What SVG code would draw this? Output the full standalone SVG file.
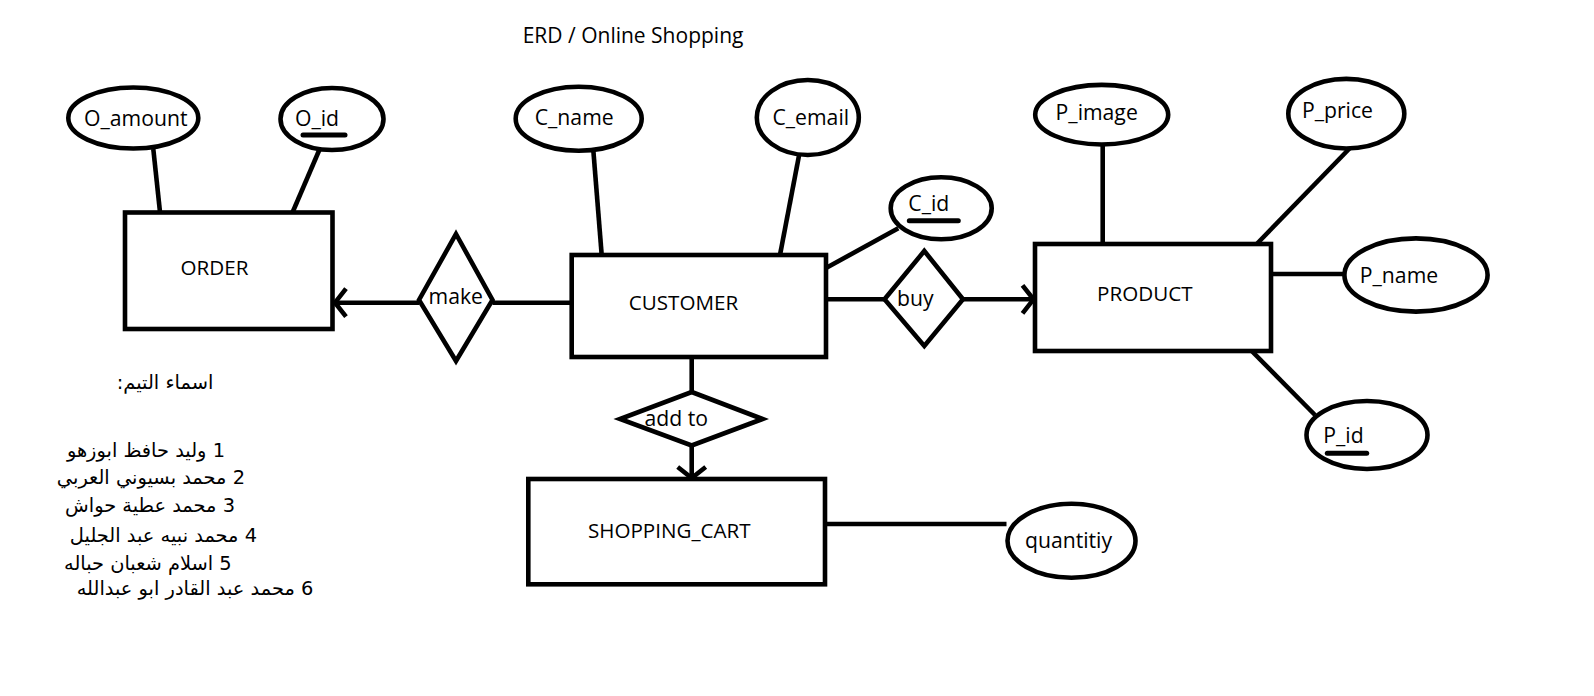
<svg xmlns="http://www.w3.org/2000/svg" width="1594" height="696" viewBox="0 0 1594 696">
<defs>
<style>
.shape{fill:#fff;stroke:#000;stroke-width:4.6}
.ln{fill:none;stroke:#000;stroke-width:4.6}
.ul{fill:none;stroke:#000;stroke-width:5;stroke-linecap:round}
text{font-family:"Open Sans","Liberation Sans",Arial,sans-serif;fill:#000}
.ent{font-size:20.6px;text-anchor:middle}
.att{font-size:21.2px;text-anchor:middle}
.key{font-size:21.2px}
.ttl{font-size:21px}
.ar{font-family:"DejaVu Sans","Noto Sans",sans-serif;font-size:19.4px}
</style>
<marker id="arr" markerWidth="18" markerHeight="32" viewBox="0 0 18 32" refX="14" refY="16" orient="auto" markerUnits="userSpaceOnUse">
<path d="M3,2 L14,16 L3,30" fill="none" stroke="#000" stroke-width="4.6"/>
</marker>
</defs>
<rect width="1594" height="696" fill="#fff"/>
<text class="ttl" x="522.7" y="43.3">ERD / Online Shopping</text>

<g id="connectors">
<line class="ln" x1="153.3" y1="149" x2="160" y2="212"/>
<line class="ln" x1="319.3" y1="150" x2="292.7" y2="212"/>
<line class="ln" x1="593.3" y1="150" x2="601.7" y2="255"/>
<line class="ln" x1="799.3" y1="154" x2="780" y2="255"/>
<line class="ln" x1="898.3" y1="228.3" x2="826" y2="268"/>
<line class="ln" x1="419" y1="302.7" x2="335" y2="302.7" marker-end="url(#arr)"/>
<line class="ln" x1="492.5" y1="302.7" x2="572" y2="302.7"/>
<line class="ln" x1="826" y1="299.3" x2="884.5" y2="299.3"/>
<line class="ln" x1="963" y1="299.3" x2="1033.5" y2="299.3" marker-end="url(#arr)"/>
<line class="ln" x1="691.7" y1="357" x2="691.7" y2="392"/>
<line class="ln" x1="691.7" y1="445.5" x2="691.7" y2="478" marker-end="url(#arr)"/>
<line class="ln" x1="825" y1="524" x2="1006.5" y2="524"/>
<line class="ln" x1="1102.7" y1="144" x2="1102.7" y2="244"/>
<line class="ln" x1="1350" y1="148" x2="1256.7" y2="244"/>
<line class="ln" x1="1271" y1="274" x2="1345" y2="274"/>
<line class="ln" x1="1251.7" y1="351" x2="1315" y2="415"/>
</g>

<g id="order"><rect class="shape" x="125" y="212.5" width="207.5" height="116.5"/><text class="ent" x="214.5" y="275">ORDER</text></g>
<g id="customer"><rect class="shape" x="571.7" y="255" width="254.3" height="102"/><text class="ent" x="683.5" y="310">CUSTOMER</text></g>
<g id="product"><rect class="shape" x="1035" y="244" width="236" height="107"/><text class="ent" x="1144.8" y="300.7">PRODUCT</text></g>
<g id="shopping_cart"><rect class="shape" x="528.3" y="479" width="296.7" height="105.3"/><text class="ent" x="669.2" y="538.3">SHOPPING_CART</text></g>

<g id="make"><polygon class="shape" points="456,234 492.5,300 456,361 419,300"/><text class="att" x="455.8" y="304.3">make</text></g>
<g id="buy"><polygon class="shape" points="924.3,251 963,299.3 924.3,346 884.5,299.3"/><text class="att" x="915.3" y="305.7">buy</text></g>
<g id="add_to"><polygon class="shape" points="691.7,392 762.5,419 691.7,445.5 620,419"/><text class="att" x="676.2" y="426">add to</text></g>

<g id="o_amount"><ellipse class="shape" cx="133.3" cy="118" rx="65" ry="30.5"/><text class="att" x="135.8" y="125.7">O_amount</text></g>
<g id="o_id"><ellipse class="shape" cx="332" cy="119" rx="51.5" ry="31"/><text class="key" x="295" y="125.7">O_id</text><line class="ul" x1="303" y1="135" x2="345" y2="135"/></g>
<g id="c_name"><ellipse class="shape" cx="578.7" cy="118.7" rx="63" ry="32"/><text class="att" x="574.2" y="125">C_name</text></g>
<g id="c_email"><ellipse class="shape" cx="807.8" cy="117.5" rx="51" ry="37.5"/><text class="att" x="810.8" y="125">C_email</text></g>
<g id="c_id"><ellipse class="shape" cx="941.2" cy="208.3" rx="50.5" ry="31"/><text class="key" x="908.3" y="210.7">C_id</text><line class="ul" x1="909.3" y1="220.7" x2="958.3" y2="220.7"/></g>
<g id="p_image"><ellipse class="shape" cx="1101.7" cy="114.7" rx="66.5" ry="29.8"/><text class="att" x="1096.7" y="120">P_image</text></g>
<g id="p_price"><ellipse class="shape" cx="1346.3" cy="113.7" rx="58" ry="34.8"/><text class="att" x="1337.5" y="118.3">P_price</text></g>
<g id="p_name"><ellipse class="shape" cx="1416" cy="275" rx="71.6" ry="36.6"/><text class="att" x="1399" y="283.3">P_name</text></g>
<g id="p_id"><ellipse class="shape" cx="1367" cy="435" rx="60.5" ry="34"/><text class="key" x="1323.3" y="443.3">P_id</text><line class="ul" x1="1327.3" y1="453.3" x2="1366.7" y2="453.3"/></g>
<g id="quantitiy"><ellipse class="shape" cx="1071.5" cy="540.8" rx="64" ry="37"/><text class="att" x="1068.5" y="548">quantitiy</text></g>

<g id="team">
<text class="ar" x="213.3" y="389.3" direction="rtl">اسماء التيم:</text>
<text class="ar" x="225" y="457" direction="rtl">1 وليد حافظ ابوزهو</text>
<text class="ar" x="245" y="483.5" direction="rtl">2 محمد بسيوني العربي</text>
<text class="ar" x="235" y="511.7" direction="rtl">3 محمد عطية حواش</text>
<text class="ar" x="257" y="541.7" direction="rtl">4 محمد نبيه عبد الجليل</text>
<text class="ar" x="231.7" y="570" direction="rtl">5 اسلام شعبان حباله</text>
<text class="ar" x="313.3" y="595" direction="rtl">6 محمد عبد القادر ابو عبدالله</text>
</g>
</svg>
